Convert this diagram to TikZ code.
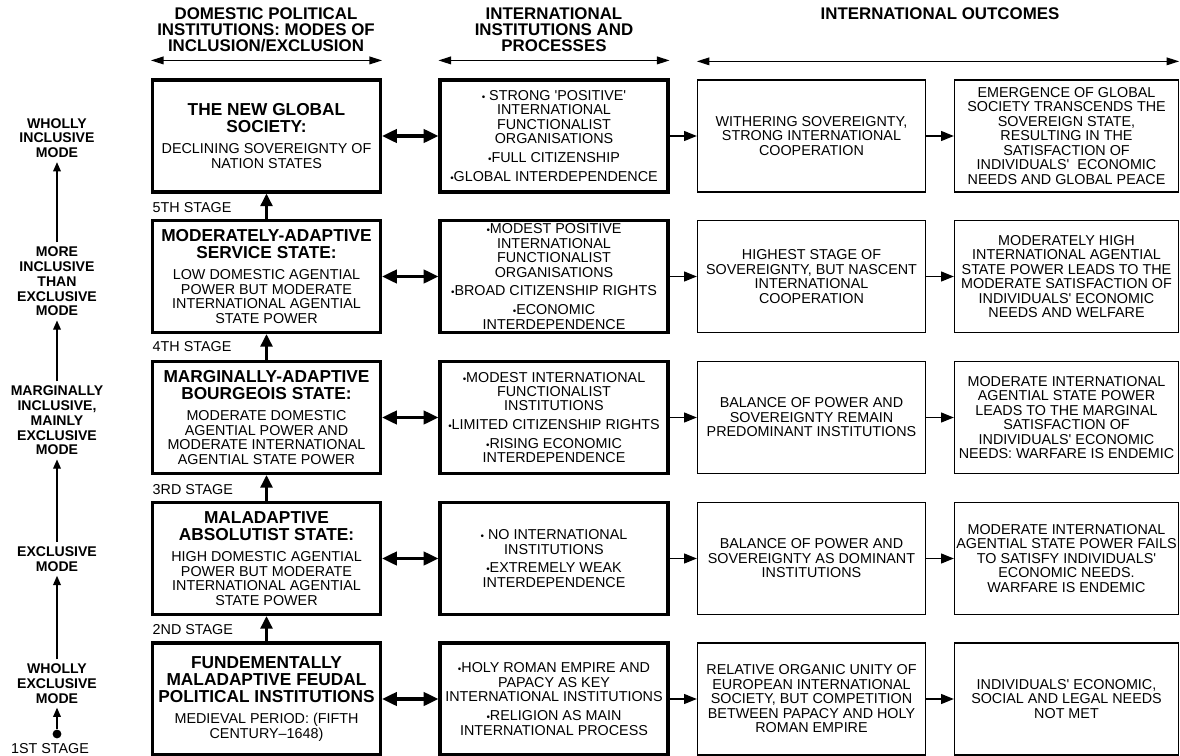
\documentclass[tikz,border=0pt]{standalone}
\usepackage{fontspec}
\setmainfont{Liberation Sans}
\usetikzlibrary{arrows.meta}

\newcommand{\hd}[1]{{\fontsize{12.3}{12}\selectfont\bfseries #1}}
\newcommand{\qt}{\textquotesingle}
\newcommand{\bul}{{\fontsize{7}{7}\selectfont•}}

\begin{document}
\begin{tikzpicture}[
    x=0.025cm, y=-0.025cm,
    every node/.style={font=\fontsize{10.2}{10.3}\selectfont, align=center, inner sep=1pt},
    dom/.style={draw, line width=2.2pt, minimum width=5.7cm, minimum height=2.8cm},
    outc/.style={draw, line width=0.9pt, minimum width=5.7cm, minimum height=2.8cm},
    res/.style={outc, minimum width=5.6cm},
    mode/.style={font=\fontsize{10}{10.5}\selectfont\bfseries, inner sep=3pt},
    colhead/.style={font=\fontsize{12}{11.5}\selectfont\bfseries},
    dbl/.style={{Triangle[length=10.5pt,width=9.5pt]}-{Triangle[length=10.5pt,width=9.5pt]}, line width=2.2pt},
    stepup/.style={-{Triangle[length=9pt,width=8.5pt]}, line width=2pt},
    fwd/.style={-{Triangle[length=9pt,width=7pt]}, line width=0.9pt},
    hspan/.style={{Triangle[length=9pt,width=5.5pt]}-{Triangle[length=9pt,width=5.5pt]}, line width=0.9pt},
    modeup/.style={-{Triangle[length=6.5pt,width=5.5pt]}, line width=0.8pt},
    ]
    \useasboundingbox (0,0) rectangle (1180,756);

    % column heads
    \node[colhead] (h1) at (266,30) {DOMESTIC POLITICAL\\INSTITUTIONS: MODES OF\\INCLUSION/EXCLUSION};
    \node[colhead] (h2) at (554,30) {INTERNATIONAL\\INSTITUTIONS AND\\PROCESSES};
    \node[colhead] (h3) at (940,14) {INTERNATIONAL OUTCOMES};

    % domestic institutions
    \node[dom] (d5) at (266.5,136) {\hd{THE NEW GLOBAL}\\[1.5pt]\hd{SOCIETY:}\\[5pt]DECLINING SOVEREIGNTY OF\\NATION STATES};
    \node[dom] (d4) at (266.5,276.5) {\hd{MODERATELY-ADAPTIVE}\\[1.5pt]\hd{SERVICE STATE:}\\[5pt]LOW DOMESTIC AGENTIAL\\POWER BUT MODERATE\\INTERNATIONAL AGENTIAL\\STATE POWER};
    \node[dom] (d3) at (266.5,417.5) {\hd{MARGINALLY-ADAPTIVE}\\[1.5pt]\hd{BOURGEOIS STATE:}\\[5pt]MODERATE DOMESTIC\\AGENTIAL POWER AND\\MODERATE INTERNATIONAL\\AGENTIAL STATE POWER};
    \node[dom] (d2) at (266.5,558.5) {\hd{MALADAPTIVE}\\[1.5pt]\hd{ABSOLUTIST STATE:}\\[5pt]HIGH DOMESTIC AGENTIAL\\POWER BUT MODERATE\\INTERNATIONAL AGENTIAL\\STATE POWER};
    \node[dom] (d1) at (266.5,699) {\hd{FUNDEMENTALLY}\\[1.5pt]\hd{MALADAPTIVE FEUDAL}\\[1.5pt]\hd{POLITICAL INSTITUTIONS}\\[5pt]MEDIEVAL PERIOD: (FIFTH\\CENTURY–1648)};

    % international institutions
    \node[dom] (i5) at (554,136) {\bul\ STRONG \qt POSITIVE\qt\\INTERNATIONAL\\FUNCTIONALIST\\ORGANISATIONS\\[3pt]\bul FULL CITIZENSHIP\\[3pt]\bul GLOBAL INTERDEPENDENCE};
    \node[dom] (i4) at (554,276.5) {\bul MODEST POSITIVE\\INTERNATIONAL\\FUNCTIONALIST\\ORGANISATIONS\\[3pt]\bul BROAD CITIZENSHIP RIGHTS\\[3pt]\bul ECONOMIC\\INTERDEPENDENCE};
    \node[dom] (i3) at (554,417.5) {\bul MODEST INTERNATIONAL\\FUNCTIONALIST\\INSTITUTIONS\\[3pt]\bul LIMITED CITIZENSHIP RIGHTS\\[3pt]\bul RISING ECONOMIC\\INTERDEPENDENCE};
    \node[dom] (i2) at (554,558.5) {\bul\ NO INTERNATIONAL\\INSTITUTIONS\\[3pt]\bul EXTREMELY WEAK\\INTERDEPENDENCE};
    \node[dom] (i1) at (554,699) {\bul HOLY ROMAN EMPIRE AND\\PAPACY AS KEY\\INTERNATIONAL INSTITUTIONS\\[3pt]\bul RELIGION AS MAIN\\INTERNATIONAL PROCESS};

    % outcomes
    \node[outc] (o5) at (811.5,136) {WITHERING SOVEREIGNTY,\\STRONG INTERNATIONAL\\COOPERATION};
    \node[outc] (o4) at (811.5,276.5) {HIGHEST STAGE OF\\SOVEREIGNTY, BUT NASCENT\\INTERNATIONAL\\COOPERATION};
    \node[outc] (o3) at (811.5,417.5) {BALANCE OF POWER AND\\SOVEREIGNTY REMAIN\\PREDOMINANT INSTITUTIONS};
    \node[outc] (o2) at (811.5,558.5) {BALANCE OF POWER AND\\SOVEREIGNTY AS DOMINANT\\INSTITUTIONS};
    \node[outc] (o1) at (811.5,699) {RELATIVE ORGANIC UNITY OF\\EUROPEAN INTERNATIONAL\\SOCIETY, BUT COMPETITION\\BETWEEN PAPACY AND HOLY\\ROMAN EMPIRE};

    \node[res] (r5) at (1066.5,136) {EMERGENCE OF GLOBAL\\SOCIETY TRANSCENDS THE\\SOVEREIGN STATE,\\RESULTING IN THE\\SATISFACTION OF\\INDIVIDUALS\qt\ \ ECONOMIC\\NEEDS AND GLOBAL PEACE};
    \node[res] (r4) at (1066.5,276.5) {MODERATELY HIGH\\INTERNATIONAL AGENTIAL\\STATE POWER LEADS TO THE\\MODERATE SATISFACTION OF\\INDIVIDUALS\qt\ ECONOMIC\\NEEDS AND WELFARE};
    \node[res] (r3) at (1066.5,417.5) {MODERATE INTERNATIONAL\\AGENTIAL STATE POWER\\LEADS TO THE MARGINAL\\SATISFACTION OF\\INDIVIDUALS\qt\ ECONOMIC\\NEEDS: WARFARE IS ENDEMIC};
    \node[res] (r2) at (1066.5,558.5) {MODERATE INTERNATIONAL\\AGENTIAL STATE POWER FAILS\\TO SATISFY INDIVIDUALS\qt\\ECONOMIC NEEDS.\\WARFARE IS ENDEMIC};
    \node[res] (r1) at (1066.5,699) {INDIVIDUALS\qt\ ECONOMIC,\\SOCIAL AND LEGAL NEEDS\\NOT MET};

    % stages
    \node[anchor=west] (s5) at (151,208) {5TH STAGE};
    \node[anchor=west] (s4) at (151,347) {4TH STAGE};
    \node[anchor=west] (s3) at (151,490) {3RD STAGE};
    \node[anchor=west] (s2) at (151,630) {2ND STAGE};
    \node (s1) at (50,749) {1ST STAGE};

    % modes
    \node[mode] (m5) at (57,138) {WHOLLY\\INCLUSIVE\\MODE};
    \node[mode] (m4) at (57,281.5) {MORE\\INCLUSIVE\\THAN\\EXCLUSIVE\\MODE};
    \node[mode] (m3) at (57,420.5) {MARGINALLY\\INCLUSIVE,\\MAINLY\\EXCLUSIVE\\MODE};
    \node[mode] (m2) at (57,559) {EXCLUSIVE\\MODE};
    \node[mode] (m1) at (57,683.5) {WHOLLY\\EXCLUSIVE\\MODE};
    \node[circle, fill, inner sep=0pt, minimum size=0.22cm] (dot) at (57,734) {};

    \draw[hspan] ([yshift=0.45cm]d5.north west) -- ([yshift=0.45cm]d5.north east);
    \draw[hspan] ([yshift=0.45cm]i5.north west) -- ([yshift=0.45cm]i5.north east);
    \draw[hspan] ([yshift=0.45cm]o5.north west) -- ([yshift=0.45cm]r5.north east);

    \draw[dbl] (d5) -- (i5);
    \draw[dbl] (d4) -- (i4);
    \draw[dbl] (d3) -- (i3);
    \draw[dbl] (d2) -- (i2);
    \draw[dbl] (d1) -- (i1);
    \draw[fwd] (i5) -- (o5);
    \draw[fwd] (i4) -- (o4);
    \draw[fwd] (i3) -- (o3);
    \draw[fwd] (i2) -- (o2);
    \draw[fwd] (i1) -- (o1);
    \draw[fwd] (o5) -- (r5);
    \draw[fwd] (o4) -- (r4);
    \draw[fwd] (o3) -- (r3);
    \draw[fwd] (o2) -- (r2);
    \draw[fwd] (o1) -- (r1);

    \draw[stepup] (d4) -- (d5);
    \draw[stepup] (d3) -- (d4);
    \draw[stepup] (d2) -- (d3);
    \draw[stepup] (d1) -- (d2);

    \draw[modeup] (m4) -- (m5);
    \draw[modeup] (m3) -- (m4);
    \draw[modeup] (m2) -- (m3);
    \draw[modeup] (m1) -- (m2);
    \draw[modeup] (dot) -- (m1);
\end{tikzpicture}
\end{document}
